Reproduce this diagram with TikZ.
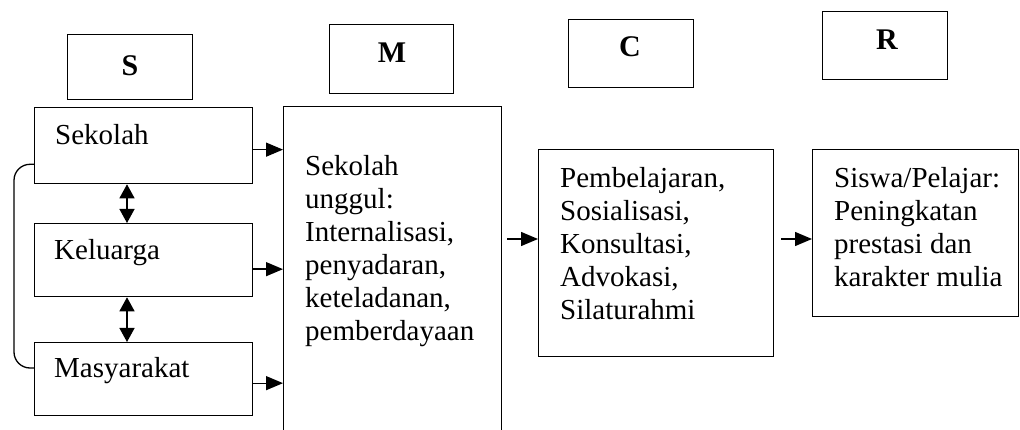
\documentclass[tikz,border=0pt]{standalone}
\usepackage{fontspec}
\setmainfont{Liberation Serif}
\usetikzlibrary{arrows.meta,calc}
\newcommand{\txtlines}[1]{\begin{tabular}[t]{@{}l@{}}#1\end{tabular}}
\begin{document}
\begin{tikzpicture}[x=1pt,y=-1pt,
  box/.style={draw,line width=1.3pt,inner sep=0pt,anchor=north west},
  body/.style={inner sep=0pt,anchor=base west,font=\fontsize{29}{33}\selectfont},
  hdr/.style={inner sep=0pt,font=\fontsize{30}{32}\selectfont\bfseries},
  arr/.style={line width=1.3pt,-{Triangle[length=17pt,width=14pt]}},
  dbl/.style={line width=1.3pt,{Triangle[length=14pt,width=15pt]}-{Triangle[length=14pt,width=15pt]}}
]
\clip (0,0) rectangle (1020,430);
\fill[white] (0,0) rectangle (1020,430);
% header boxes
\node[box,minimum width=125pt,minimum height=65pt] (hS) at (67,34) {};
\node[box,minimum width=124pt,minimum height=69pt] (hM) at (329,24) {};
\node[box,minimum width=125pt,minimum height=68pt] (hC) at (568,19) {};
\node[box,minimum width=125pt,minimum height=68pt] (hR) at (822,11) {};
\node[hdr] (tS) at (130,66) {S};
\node[hdr] (tM) at (392,53) {M};
\node[hdr] (tC) at (630,47) {C};
\node[hdr] (tR) at (887,40) {R};
% S column
\node[box,minimum width=218pt,minimum height=76pt] (sek) at (34,107) {};
\node[box,minimum width=218pt,minimum height=73pt] (kel) at (34,223) {};
\node[box,minimum width=218pt,minimum height=73pt] (mas) at (34,342) {};
\node[body] (tsek) at (55,145) {Sekolah};
\node[body] (tkel) at (54,260) {Keluarga};
\node[body] (tmas) at (54,377) {Masyarakat};
% M, C, R boxes
\node[box,minimum width=218pt,minimum height=340pt] (m) at (283,106) {};
\node[box,minimum width=235pt,minimum height=207pt] (c) at (538,149) {};
\node[box,minimum width=206pt,minimum height=167pt] (r) at (812,149) {};
\node[body] (tm) at (305,176) {\txtlines{Sekolah\\unggul:\\Internalisasi,\\penyadaran,\\keteladanan,\\pemberdayaan}};
\node[body] (tc) at (560,188) {\txtlines{Pembelajaran,\\Sosialisasi,\\Konsultasi,\\Advokasi,\\Silaturahmi}};
\node[body] (tr) at (834,188) {\txtlines{Siswa/Pelajar:\\Peningkatan\\prestasi dan\\karakter mulia}};
% connectors
\coordinate (a1) at ($(sek.east)+(0,4)$);
\coordinate (a2) at ($(kel.east)+(0,9)$);
\coordinate (a3) at ($(mas.east)+(0,4)$);
\draw[arr] (a1) -- (a1 -| m.west);
\draw[arr] (a2) -- (a2 -| m.west);
\draw[arr] (a3) -- (a3 -| m.west);
\draw[dbl] ($(sek.south west)+(93,0)$) -- ($(kel.north west)+(93,0)$);
\draw[dbl] ($(kel.south west)+(93,0)$) -- ($(mas.north west)+(93,0)$);
\coordinate (lt) at ($(sek.south west)+(0,-20)$);
\coordinate (lb) at ($(mas.north west)+(0,26)$);
\draw[line width=1.3pt,rounded corners=16pt] (lt) -- ++(-20,0) |- (lb);
\coordinate (mc) at (507,239);
\draw[arr] (mc) -- (mc -| c.west);
\coordinate (cr) at (781,239);
\draw[arr] (cr) -- (cr -| r.west);
\end{tikzpicture}
\end{document}
